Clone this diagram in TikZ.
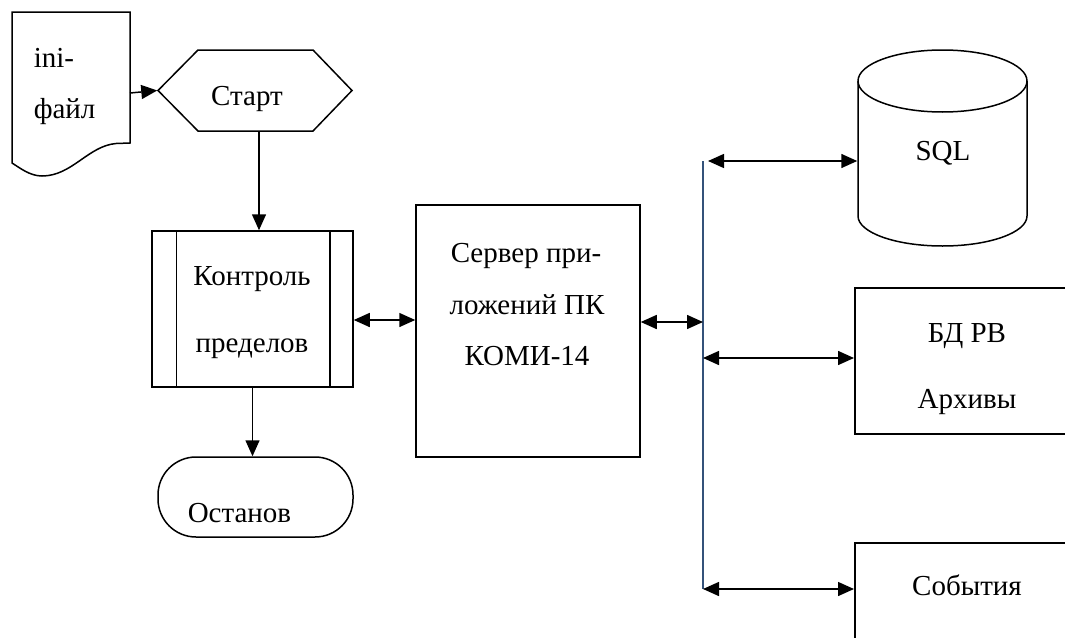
\documentclass[tikz,border=0pt]{standalone}
\usepackage{fontspec}
\setmainfont{Liberation Serif}
\newfontfamily\diagfont{Liberation Serif}
\usetikzlibrary{arrows.meta}
\definecolor{buscol}{RGB}{52,82,122}

\begin{document}
\begin{tikzpicture}[x=1pt,y=-1pt,line width=1.5pt,
  >={Triangle[length=16pt,width=14pt]},
  every node/.style={font=\diagfont\fontsize{29}{34}\selectfont},
  box/.style={draw,rectangle,inner sep=0pt},
  ghost/.style={rectangle,inner sep=0pt},
  lbl/.style={anchor=base,inner sep=0pt},
  lblw/.style={anchor=base west,inner sep=0pt}]
\useasboundingbox (0,0) rectangle (1065,637);
\clip (0,0) rectangle (1065,637);

% ini file (document symbol)
\draw (12,12) -- (130,12) -- (130,143) -- (116,143.5)
  .. controls (88,146) and (72,176) .. (42,176)
  .. controls (30,176) and (20,168) .. (12,163) -- cycle;
\node[ghost,minimum width=118pt,minimum height=150pt] (doc) at (71,88) {};
\coordinate (docout) at (130,93);
\node[lblw] (ini1) at (33,67) {ini-};
\node[lblw] (ini2) at (33,118) {файл};

% start (preparation hexagon)
\draw (158,90.5) -- (198,50) -- (313,50) -- (352,90.5) -- (313,131) -- (198,131) -- cycle;
\node[ghost,minimum width=194pt,minimum height=81pt] (hex) at (255,90.5) {};
\node[lbl] (start) at (247,105) {Старт};

% limit control (predefined process)
\node[box,minimum width=201pt,minimum height=156pt] (ctrl) at (252.5,309) {};
\draw ([xshift=25pt]ctrl.north west) -- ([xshift=25pt]ctrl.south west);
\draw ([xshift=-24pt]ctrl.north east) -- ([xshift=-24pt]ctrl.south east);
\node[lbl] (ctrl1) at (252,285) {Контроль};
\node[lbl] (ctrl2) at (252,352) {пределов};

% stop (terminator)
\node[draw,rounded corners=38pt,minimum width=195pt,minimum height=80pt,inner sep=0pt] (stop) at (255.5,497) {};
\node[lblw] (stoptxt) at (187,522) {Останов};

% application server
\node[box,minimum width=224pt,minimum height=252pt] (srv) at (528,331) {};
\node[lbl] (srv1) at (526,262) {Сервер при-};
\node[lbl] (srv2) at (527,314) {ложений ПК};
\node[lbl] (srv3) at (527,365) {КОМИ-14};

% data bus
\coordinate (busT) at (703,161);
\coordinate (busS) at (703,322);
\coordinate (busD) at (703,358);
\coordinate (busB) at (703,589);
\draw[buscol,line width=1.2pt] (busT) -- (busB);

% SQL database (cylinder)
\draw (858,81) -- (858,216) arc[start angle=180,end angle=0,x radius=84.5,y radius=30] -- (1027,81);
\draw (942.5,81) ellipse[x radius=84.5,y radius=31];
\node[ghost,minimum width=169pt,minimum height=196pt] (sql) at (942.5,148) {};
\node[lbl] (sqltxt) at (943,160) {SQL};

% real-time database / archives
\node[box,minimum width=240pt,minimum height=146pt,anchor=north west] (bd) at (854,287) {};
\node[lbl] (bd1) at (967,342) {БД РВ};
\node[lbl] (bd2) at (967,408) {Архивы};

% events
\node[box,minimum width=240pt,minimum height=150pt,anchor=north west] (ev) at (854,542) {};
\node[lbl] (evtxt) at (967,595) {События};

% connectors
\coordinate (cs) at (385,320);
\draw[->] (docout) -- (hex.west);
\draw[->] ([xshift=4pt]hex.south) -- ([xshift=4pt]hex.south |- ctrl.north);
\draw[->] (ctrl.south) -- (ctrl.south |- stop.north);
\draw[<->] (cs -| ctrl.east) -- (cs -| srv.west);
\draw[<->] (srv.east |- busS) -- (busS);
\draw[<->] ([xshift=5pt]busT) -- (busT -| sql.west);
\draw[<->] (busD) -- (busD -| bd.west);
\draw[<->] (busB) -- (busB -| ev.west);
\end{tikzpicture}
\end{document}
